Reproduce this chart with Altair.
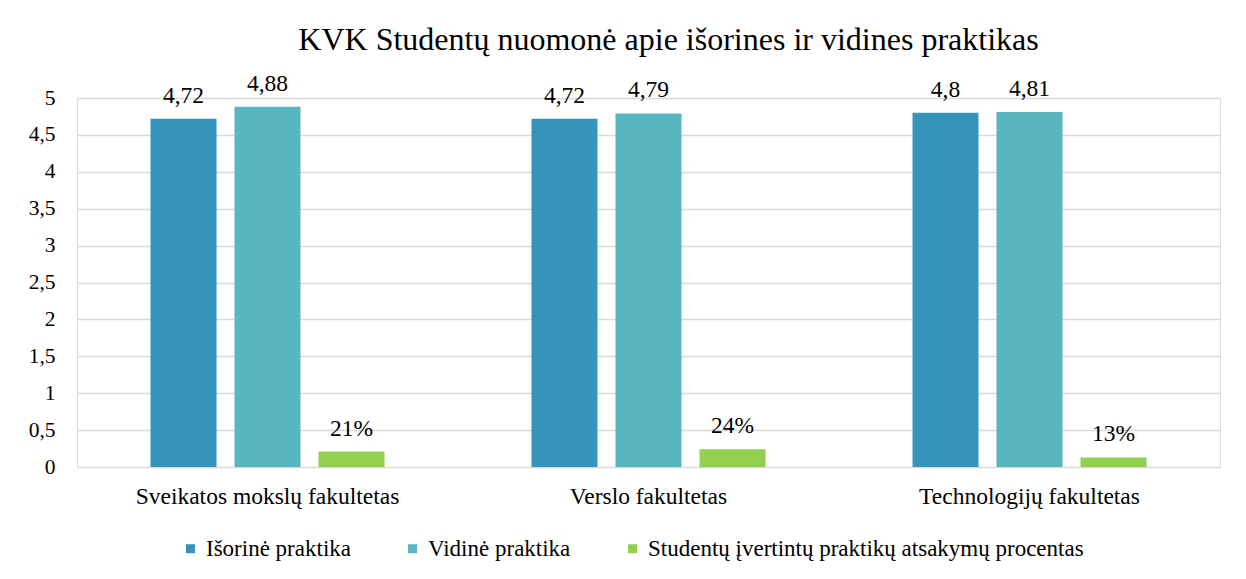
import altair as alt
import pandas as pd

faculties = ["Sveikatos mokslų fakultetas", "Verslo fakultetas", "Technologijų fakultetas"]
series = ["Išorinė praktika", "Vidinė praktika", "Studentų įvertintų praktikų atsakymų procentas"]
isorine = [4.72, 4.72, 4.8]
vidine = [4.88, 4.79, 4.81]
procentas = [0.21, 0.24, 0.13]
colors = ["#3494BA", "#58B6C0", "#92D050"]
y_ticks = [0, 0.5, 1, 1.5, 2, 2.5, 3, 3.5, 4, 4.5, 5]

rows = []
for i, f in enumerate(faculties):
    for s, vals in zip(series, [isorine, vidine, procentas]):
        v = vals[i]
        if s == series[2]:
            lab = f"{round(v * 100)}%"
        else:
            lab = f"{v:g}".replace(".", ",")
        rows.append({"fakultetas": f, "serija": s, "reiksme": v, "zyma": lab})
df = pd.DataFrame(rows)

FONT = "Liberation Serif, Times New Roman, serif"

base = alt.Chart(df).encode(
    x=alt.X("fakultetas:N", sort=faculties, title=None,
            scale=alt.Scale(paddingInner=0, paddingOuter=0),
            axis=alt.Axis(labelAngle=0, labelFontSize=23.5, labelFont=FONT, labelColor="#000000",
                          labelPadding=17, ticks=False, domain=False, grid=False,
                          labelLimit=600)),
    xOffset=alt.XOffset("serija:N", sort=series,
                        scale=alt.Scale(paddingInner=0.214, paddingOuter=0.875)),
    y=alt.Y("reiksme:Q", title=None,
            scale=alt.Scale(domain=[0, 5]),
            axis=alt.Axis(values=y_ticks,
                          labelExpr="replace(toString(datum.value), '.', ',')",
                          labelFontSize=21.5, labelFont=FONT, labelColor="#000000",
                          labelPadding=22, ticks=False, domain=False,
                          gridColor="#d9d9d9", gridWidth=1.3)),
)

bars = base.mark_bar().encode(
    color=alt.Color("serija:N", sort=series, title=None,
                    scale=alt.Scale(domain=series, range=colors),
                    legend=alt.Legend(orient="none", direction="horizontal",
                                      legendX=102, legendY=439,
                                      symbolType="square", symbolSize=81,
                                      symbolStrokeWidth=0,
                                      labelFont=FONT, labelFontSize=23, labelColor="#000000",
                                      columnPadding=50, labelOffset=4,
                                      labelLimit=700)),
)

labels = base.mark_text(font=FONT, fontSize=23.5, color="#000000", dy=-16,
                        baseline="alphabetic").encode(
    text=alt.Text("zyma:N"),
)

chart = (bars + labels).properties(
    width=1143, height=369,
    title=alt.TitleParams("KVK Studentų nuomonė apie išorines ir vidines praktikas",
                          font=FONT, fontSize=32, fontWeight="normal", color="#000000",
                          anchor="middle", dx=20, offset=15),
    padding={"left": 20, "top": 15, "right": 10, "bottom": 10},
).configure_view(stroke=None).configure(background="#ffffff")

chart.save("out.html", embed_options={"renderer": "svg", "actions": False})
